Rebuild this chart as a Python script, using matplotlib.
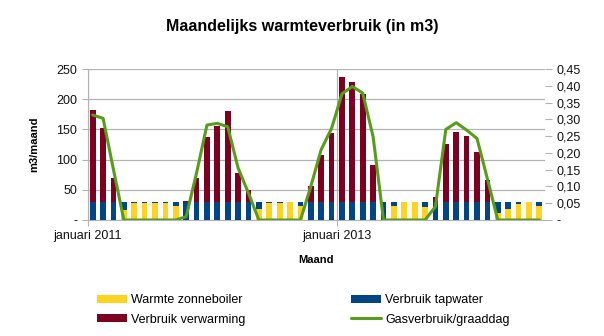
import matplotlib.pyplot as plt
import numpy as np
import pandas as pd

plt.rcParams['font.family'] = ['Liberation Sans', 'DejaVu Sans']

months = pd.date_range('2011-01-01', periods=44, freq='MS')

# m3 per maand
zonneboiler = [0, 0, 0, 17, 28, 28, 28, 28, 23, 0, 0, 0,
               0, 0, 0, 0, 18, 28, 28, 30, 23, 0, 0, 0,
               0, 0, 0, 0, 0, 23, 29, 29, 21, 0, 0, 0,
               0, 0, 0, 11, 18, 27, 30, 23]
tapwater = [30, 30, 30, 13, 2, 2, 2, 2, 7, 30, 30, 30,
            30, 30, 30, 30, 12, 2, 2, 0, 7, 30, 30, 30,
            30, 30, 30, 30, 30, 7, 1, 1, 9, 30, 30, 30,
            30, 30, 30, 19, 12, 3, 0, 7]
verwarming = [152, 122, 39, 0, 0, 0, 0, 0, 0, 2, 39, 108,
              126, 150, 47, 19, 0, 0, 0, 0, 0, 26, 78, 114,
              206, 199, 179, 61, 0, 0, 0, 0, 0, 8, 96, 116,
              109, 83, 37, 0, 0, 0, 0, 0]
# gasverbruik per graaddag
graaddag = [0.313, 0.303, 0.15, 0, 0, 0, 0, 0, 0, 0.01, 0.14, 0.283,
            0.288, 0.278, 0.155, 0.08, 0, 0, 0, 0, 0, 0.10, 0.21, 0.273,
            0.376, 0.398, 0.378, 0.248, 0, 0, 0, 0, 0, 0.04, 0.27, 0.29,
            0.268, 0.243, 0.123, 0, 0, 0, 0, 0]

yellow = '#ffd320'
blue = '#004586'
red = '#7e0021'
green = '#579d1c'
grid = '#b3b3b3'

x = np.arange(len(months))
zb = np.array(zonneboiler)
tw = np.array(tapwater)
vw = np.array(verwarming)

fig = plt.figure(figsize=(6.04, 3.36), dpi=100)
ax = fig.add_axes([87.5 / 604, 1 - 220 / 336, (544.5 - 87.5) / 604, 151 / 336])
ax2 = ax.twinx()

w = 0.55
b1 = ax.bar(x, zb, w, color=yellow, label='Warmte zonneboiler', zorder=3)
b2 = ax.bar(x, tw, w, bottom=zb, color=blue, label='Verbruik tapwater', zorder=3)
b3 = ax.bar(x, vw, w, bottom=zb + tw, color=red, label='Verbruik verwarming', zorder=3)
l1, = ax2.plot(x, graaddag, color=green, lw=2.2, solid_joinstyle='round',
               solid_capstyle='round', label='Gasverbruik/graaddag')

ax.set_xlim(-0.5, len(months) - 0.5)
ax.set_ylim(0, 250)
ax2.set_ylim(0, 0.45)

yt = [0, 50, 100, 150, 200, 250]
ax.set_yticks(yt)
ax.set_yticklabels(['-'] + [str(v) for v in yt[1:]])
yt2 = np.arange(0, 0.46, 0.05)
ax2.set_yticks(yt2)
ax2.set_yticklabels(['-'] + [f'{v:.2f}'.replace('.', ',') for v in yt2[1:]])

jan = [i for i, m in enumerate(months) if m.month == 1 and m.year in (2011, 2013)]
ax.set_xticks([i - 0.5 for i in jan])
ax.set_xticklabels([f'januari {months[i].year}' for i in jan])

ax.grid(axis='y', color=grid, lw=0.9, zorder=0)
ax.grid(axis='x', color=grid, lw=0.9, zorder=0)
for a in (ax, ax2):
    for s in ['top', 'right', 'left', 'bottom']:
        a.spines[s].set_visible(False)
ax.spines['left'].set_visible(True)
ax.spines['left'].set_color(grid)
ax.spines['bottom'].set_visible(True)
ax.spines['bottom'].set_color(grid)

ax.tick_params(axis='both', colors=grid, labelcolor='#111111', labelsize=9, length=4)
ax2.tick_params(axis='y', colors=grid, labelcolor='#111111', labelsize=9, length=5)

ax.set_xlabel('Maand', fontsize=8, fontweight='bold', labelpad=9)
ax.set_ylabel('m3/maand', fontsize=8, fontweight='bold', labelpad=12)
fig.suptitle('Maandelijks warmteverbruik (in m3)', fontsize=11.5, fontweight='bold',
             y=1 - 27 / 336, va='center')

fig.legend([b1, b3, b2, l1],
           ['Warmte zonneboiler', 'Verbruik verwarming', 'Verbruik tapwater', 'Gasverbruik/graaddag'],
           ncol=2, loc='upper left', bbox_to_anchor=(97 / 604, 1 - 294 / 336),
           frameon=False, fontsize=9, handlelength=2.4, handleheight=0.6,
           handletextpad=0.35, columnspacing=8.4, labelspacing=0.6, borderpad=0,
           borderaxespad=0)

fig.savefig('out.png', dpi=100)
